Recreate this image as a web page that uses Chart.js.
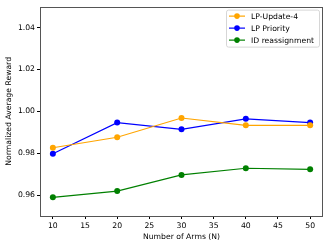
<!DOCTYPE html>
<html>
<head>
<meta charset="utf-8">
<script src="https://cdn.jsdelivr.net/npm/chart.js@4"></script>
<style>
  html, body { margin: 0; padding: 0; background: #fff; }
  #chart { display: block; }
</style>
</head>
<body>
<canvas id="chart" width="329" height="247"></canvas>
<script>
// data
const arms = [10, 20, 30, 40, 50];
const lpUpdate4 = [0.9826, 0.9876, 0.9968, 0.9933, 0.9933];
const lpPriority = [0.9797, 0.9946, 0.9914, 0.9964, 0.9946];
const idReassign = [0.9589, 0.9619, 0.9696, 0.9728, 0.9723];
const xTicks = [10, 15, 20, 25, 30, 35, 40, 45, 50];
const yTicks = [0.96, 0.98, 1.00, 1.02, 1.04];

const FONT = { family: 'DejaVu Sans', size: 7.7 };

function points(ys) {
    return arms.map((x, i) => ({ x: x, y: ys[i] }));
}

function series(label, ys, color) {
    return {
        label: label,
        data: points(ys),
        borderColor: color,
        backgroundColor: color,
        borderWidth: 1.2,
        pointRadius: 3,
        pointHoverRadius: 3,
        pointBorderWidth: 0,
        tension: 0
    };
}

// frame + legend box inside the plot, matplotlib style
const framePlugin = {
    id: 'frame',
    afterDraw(chart) {
        const ctx = chart.ctx;
        const a = chart.chartArea;
        ctx.save();
        ctx.strokeStyle = '#555';
        ctx.lineWidth = 1;
        ctx.strokeRect(Math.round(a.left) + 0.5, Math.round(a.top) + 0.5,
            Math.round(a.right - a.left) - 1, Math.round(a.bottom - a.top));

        // legend
        const x0 = a.right - 97, y0 = a.top + 3, w = 93, h = 37;
        ctx.fillStyle = 'rgba(255,255,255,0.85)';
        ctx.strokeStyle = '#d6d6d6';
        ctx.lineWidth = 1;
        ctx.beginPath();
        ctx.roundRect(x0 + 0.5, y0 + 0.5, w, h, 2);
        ctx.fill();
        ctx.stroke();

        ctx.font = FONT.size + 'px ' + FONT.family;
        ctx.textBaseline = 'middle';
        chart.data.datasets.forEach((ds, i) => {
            const cy = y0 + 6.5 + i * 12;
            ctx.strokeStyle = ds.borderColor;
            ctx.lineWidth = 1.2;
            ctx.beginPath();
            ctx.moveTo(x0 + 3, cy);
            ctx.lineTo(x0 + 19, cy);
            ctx.stroke();
            ctx.fillStyle = ds.borderColor;
            ctx.beginPath();
            ctx.arc(x0 + 11, cy, 2.8, 0, Math.PI * 2);
            ctx.fill();
            ctx.fillStyle = '#000';
            ctx.fillText(ds.label, x0 + 25, cy + 0.5);
        });
        ctx.restore();
    }
};

new Chart(document.getElementById('chart'), {
    type: 'line',
    data: {
        datasets: [
            series('LP-Update-4', lpUpdate4, '#ffa500'),
            series('LP Priority', lpPriority, '#0000ff'),
            series('ID reassignment', idReassign, '#008000')
        ]
    },
    options: {
        responsive: false,
        animation: false,
        devicePixelRatio: 1,
        layout: { padding: { top: 6, right: 6, left: 0, bottom: 0 } },
        plugins: {
            legend: { display: false },
            tooltip: { enabled: false }
        },
        scales: {
            x: {
                type: 'linear',
                min: 8,
                max: 52,
                afterBuildTicks(scale) {
                    scale.ticks = xTicks.map(v => ({ value: v }));
                },
                afterFit(scale) { scale.height = 31; },
                ticks: { font: FONT, color: '#000', padding: 2, maxRotation: 0 },
                grid: { drawOnChartArea: false, drawTicks: true, tickLength: 3, color: '#000' },
                border: { display: false },
                title: { display: true, text: 'Number of Arms (N)', font: FONT, color: '#000', padding: { top: 1, bottom: 5 } }
            },
            y: {
                min: 0.95,
                max: 1.05,
                afterBuildTicks(scale) {
                    scale.ticks = yTicks.map(v => ({ value: v }));
                },
                afterFit(scale) { scale.width = 40; },
                ticks: { font: FONT, color: '#000', padding: 2, callback: v => v.toFixed(2) },
                grid: { drawOnChartArea: false, drawTicks: true, tickLength: 3, color: '#000' },
                border: { display: false },
                title: { display: true, text: 'Normalized Average Reward', font: FONT, color: '#000', padding: { top: 4, bottom: 2 } }
            }
        }
    },
    plugins: [framePlugin]
});
</script>
</body>
</html>
